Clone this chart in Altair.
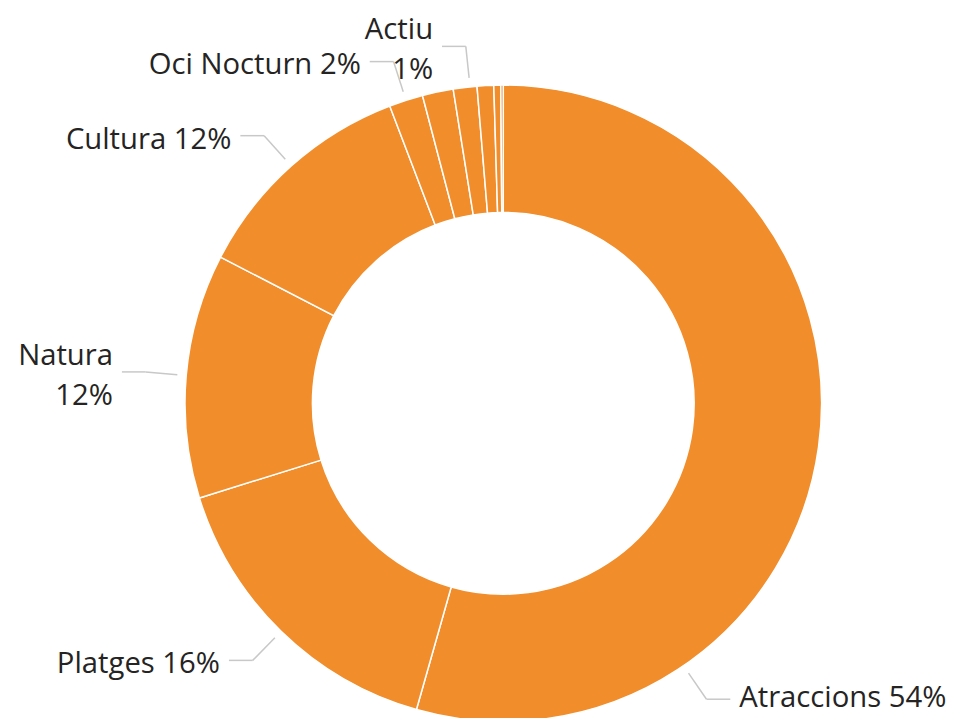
import altair as alt
import pandas as pd

# ---- data ----
categories = ["Atraccions", "Platges", "Natura", "Cultura", "Oci Nocturn",
              "Gastronomia", "Actiu", "Compres", "Salut", "Esports"]
values = [54.4, 15.8, 12.4, 11.6, 1.72, 1.57, 1.2, 0.84, 0.35, 0.125]

# ---- label configuration ----
show_label = [True, True, True, True, True, False, True, False, False, False]
wrap_label = [False, False, True, False, False, False, True, False, False, False]
leader_shift_deg = [47.6, 0, 0, 0, 0, 0, 0.9, 0, 0, 0]

# ---- geometry / style ----
CX, CY = 499.5, 395.7
R_OUT, R_IN = 321, 192.5
R_LEAD0, R_LEAD1 = 330, 362
HSEG, GAP = 24, 9
LINE_H = 40
TEXT_DY = 4
TEXT_Y_MAX = 693
ORANGE = "#F18D2B"
FONT = "Open Sans"
FS = 29.5

df = pd.DataFrame({
    "idx": list(range(len(categories))),
    "category": categories,
    "value": values,
    "show": show_label,
    "wrap": wrap_label,
    "shift": leader_shift_deg,
})

base = (
    alt.Chart(df)
    .transform_joinaggregate(total="sum(value)")
    .transform_window(cum="sum(value)", sort=[alt.SortField("idx", order="ascending")], frame=[None, 0])
    .transform_calculate(mid="(datum.cum - datum.value / 2) / datum.total * 360 + datum.shift")
    .transform_calculate(rad="datum.mid * PI / 180")
    .transform_calculate(
        sx=f"{CX} + {R_LEAD0} * sin(datum.rad)",
        sy=f"{CY} - {R_LEAD0} * cos(datum.rad)",
        ex=f"{CX} + {R_LEAD1} * sin(datum.rad)",
        ey=f"{CY} - {R_LEAD1} * cos(datum.rad)",
        side="sin(datum.rad) >= 0 ? 1 : -1",
        pct="format(datum.value / datum.total, '.0%')",
    )
    .transform_calculate(
        hx=f"datum.ex + datum.side * {HSEG}",
        tx=f"datum.ex + datum.side * {HSEG + GAP}",
        ty=f"min({TEXT_Y_MAX}, datum.ey + {TEXT_DY} - (datum.wrap ? {LINE_H / 2} : 0))",
        lab="datum.wrap ? datum.category + '\\n' + datum.pct : datum.category + ' ' + datum.pct",
    )
)

arcs = base.mark_arc(
    innerRadius=R_IN, outerRadius=R_OUT, stroke="white", strokeWidth=1.5, color=ORANGE
).encode(
    theta=alt.Theta("value:Q", stack=True),
    order=alt.Order("idx:Q", sort="ascending"),
    x=alt.value(CX),
    y=alt.value(CY),
    tooltip=["category:N", "value:Q"],
)

labeled = base.transform_filter("datum.show")

lead1 = labeled.mark_rule(color="#c8c8c8", strokeWidth=1.5).encode(
    x=alt.X("sx:Q", scale=None, axis=None),
    y=alt.Y("sy:Q", scale=None, axis=None),
    x2="ex:Q",
    y2="ey:Q",
)
lead2 = labeled.mark_rule(color="#c8c8c8", strokeWidth=1.5).encode(
    x=alt.X("ex:Q", scale=None, axis=None),
    y=alt.Y("ey:Q", scale=None, axis=None),
    x2="hx:Q",
    y2="ey:Q",
)

text_common = dict(font=FONT, fontSize=FS, baseline="middle",
                   lineBreak="\n", lineHeight=LINE_H, color="#252423")
text_left = labeled.transform_filter("datum.side < 0").mark_text(align="right", **text_common).encode(
    x=alt.X("tx:Q", scale=None, axis=None),
    y=alt.Y("ty:Q", scale=None, axis=None),
    text="lab:N",
)
text_right = labeled.transform_filter("datum.side > 0").mark_text(align="left", **text_common).encode(
    x=alt.X("tx:Q", scale=None, axis=None),
    y=alt.Y("ty:Q", scale=None, axis=None),
    text="lab:N",
)

chart = (
    alt.layer(arcs, lead1, lead2, text_left, text_right)
    .properties(width=946, height=710, autosize=alt.AutoSizeParams(type="none"), padding=0)
    .configure_view(stroke=None)
)

chart.save("out.html", embed_options={"renderer": "svg", "actions": False})
